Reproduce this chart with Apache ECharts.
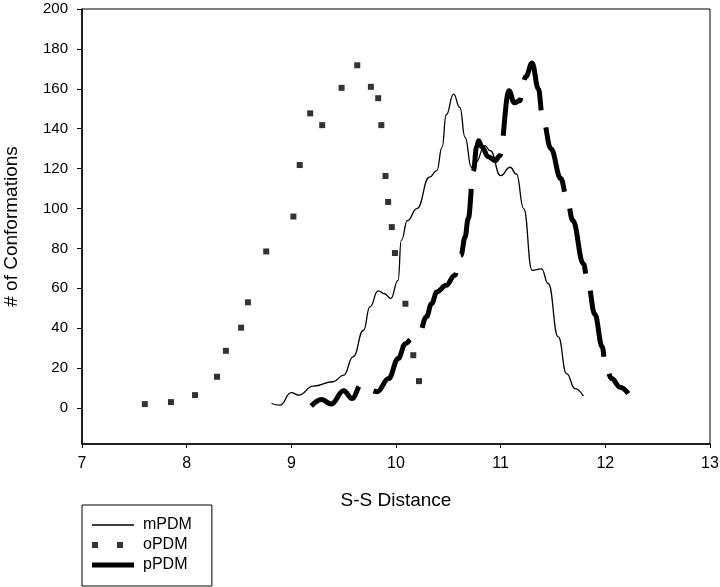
<!DOCTYPE html>
<html>
<head>
<meta charset="utf-8">
<script src="https://cdn.jsdelivr.net/npm/echarts@6/dist/echarts.min.js"></script>
<style>
html,body{margin:0;padding:0;background:#fff;}
#main{width:720px;height:587px;}
</style>
</head>
<body>
<div id="main"></div>
<script>
// mPDM - thin solid curve
var mX = [8.81, 8.89, 9.00, 9.07, 9.21, 9.40, 9.50, 9.59, 9.69, 9.75, 9.83, 9.89, 9.95, 10.02, 10.05, 10.11, 10.20, 10.32, 10.39, 10.44, 10.48, 10.55, 10.61, 10.66, 10.72, 10.76, 10.85, 10.90, 11.00, 11.09, 11.15, 11.22, 11.30, 11.39, 11.455, 11.55, 11.63, 11.71, 11.79];
var mY = [2.3, 1.5, 7.7, 6.5, 11, 13.2, 16.5, 25.7, 39, 50.7, 58.7, 57.3, 55, 64, 84, 94, 100, 115.7, 119, 130.7, 147, 157.3, 150.7, 135.7, 120.7, 123, 131.5, 129, 116.5, 120.7, 117.3, 100, 69, 69.8, 62.3, 35.7, 17.3, 9.8, 6];

// oPDM - square markers
var oX = [7.60, 7.85, 8.08, 8.29, 8.375, 8.52, 8.585, 8.76, 9.02, 9.08, 9.18, 9.295, 9.48, 9.63, 9.76, 9.83, 9.86, 9.90, 9.925, 9.96, 9.99, 10.09, 10.165, 10.22];
var oY = [2, 3, 6.5, 15.7, 28.7, 40.3, 53, 78.5, 96, 121.8, 147.7, 141.8, 160.5, 171.8, 161, 155.3, 141.8, 116.3, 103.3, 90.7, 77.7, 52.3, 26.5, 13.5];

// pPDM - thick long-dash curve
var pX = [9.19, 9.29, 9.38, 9.50, 9.58, 9.67, 9.75, 9.82, 9.93, 10.02, 10.09, 10.15, 10.22, 10.29, 10.34, 10.39, 10.48, 10.56, 10.62, 10.66, 10.69, 10.74, 10.77, 10.79, 10.82, 10.88, 10.95, 10.99, 11.08, 11.13, 11.18, 11.24, 11.30, 11.36, 11.40, 11.48, 11.575, 11.63, 11.69, 11.79, 11.83, 11.90, 11.97, 12.0, 12.06, 12.14, 12.22];
var pY = [1, 4.3, 2, 8.7, 4.8, 12, 9, 8.2, 14.8, 24.8, 32.3, 34.8, 37, 45.7, 52.3, 58.2, 61.5, 66.5, 76.5, 85.7, 95, 119, 131, 134, 131, 126, 124, 126.5, 159, 153, 154, 166, 173, 160, 146, 130, 115, 105.7, 94, 72.3, 64, 47, 30.7, 21.5, 14.8, 10.5, 7.3];

var yTicks = [0, 20, 40, 60, 80, 100, 120, 140, 160, 180, 200];

function pairs(xs, ys) {
    var out = [];
    for (var i = 0; i < xs.length; i++) {
        out.push([xs[i], ys[i]]);
    }
    return out;
}

var font = 'Liberation Sans, Arial, sans-serif';
// legend samples: bounding box 42x20 kept by the two empty move points
var box = 'path://M0,0L0,0M42,20L42,20';

var myChart = echarts.init(document.getElementById('main'));
var option = {
    animation: false,
    backgroundColor: '#fff',
    grid: {
        left: 82, right: 10, top: 9, bottom: 143,
        outerBoundsMode: 'none',
        containLabel: false,
        show: true, borderColor: '#000', borderWidth: 1
    },
    legend: {
        orient: 'vertical',
        left: 82, bottom: 1,
        padding: [10, 20, 11, 10],
        itemGap: 0, itemWidth: 42, itemHeight: 20,
        borderColor: '#000', borderWidth: 1, borderRadius: 0,
        selectedMode: false,
        textStyle: {fontFamily: font, fontSize: 16, color: '#000', padding: [0, 0, 0, 4]},
        data: [
            {name: 'mPDM', icon: box + 'M0,9.3H42V10.7H0Z', itemStyle: {borderWidth: 0}},
            {name: 'oPDM', icon: box + 'M0,7H6V13H0ZM25,7H31V13H25Z', itemStyle: {borderWidth: 0}},
            {name: 'pPDM', icon: box + 'M0,7.5H42V12.5H0Z', itemStyle: {borderWidth: 0}}
        ]
    },
    xAxis: {
        type: 'value', min: 7, max: 13, interval: 1,
        name: 'S-S Distance', nameLocation: 'middle', nameGap: 47,
        nameTextStyle: {fontFamily: font, fontSize: 19, color: '#000'},
        axisLine: {onZero: false, lineStyle: {color: '#000', width: 1.5}},
        axisTick: {length: 4, lineStyle: {color: '#000'}},
        axisLabel: {fontFamily: font, fontSize: 16, color: '#000', margin: 12},
        splitLine: {show: false}
    },
    yAxis: {
        type: 'value', min: -18, max: 200,
        name: '# of Conformations', nameLocation: 'middle', nameGap: 61,
        nameTextStyle: {fontFamily: font, fontSize: 19, color: '#000'},
        axisLine: {show: true, onZero: false, lineStyle: {color: '#000', width: 1.5}},
        axisTick: {show: true, length: 5, customValues: yTicks, lineStyle: {color: '#000'}},
        axisLabel: {fontFamily: font, fontSize: 15, color: '#000', margin: 14, customValues: yTicks},
        splitLine: {show: false}
    },
    series: [
        {
            name: 'mPDM', type: 'line',
            data: pairs(mX, mY),
            smooth: 0.5, smoothMonotone: 'x',
            symbol: 'none',
            color: '#000',
            lineStyle: {color: '#000', width: 1.3}
        },
        {
            name: 'oPDM', type: 'scatter',
            data: pairs(oX, oY),
            symbol: 'rect', symbolSize: 6,
            color: '#000',
            itemStyle: {color: '#000'}
        },
        {
            name: 'pPDM', type: 'line',
            data: pairs(pX, pY),
            smooth: 0.4, smoothMonotone: 'x',
            symbol: 'none',
            color: '#000',
            lineStyle: {color: '#000', width: 5, type: [68, 18], cap: 'butt'}
        }
    ]
};
myChart.setOption(option);
</script>
</body>
</html>
